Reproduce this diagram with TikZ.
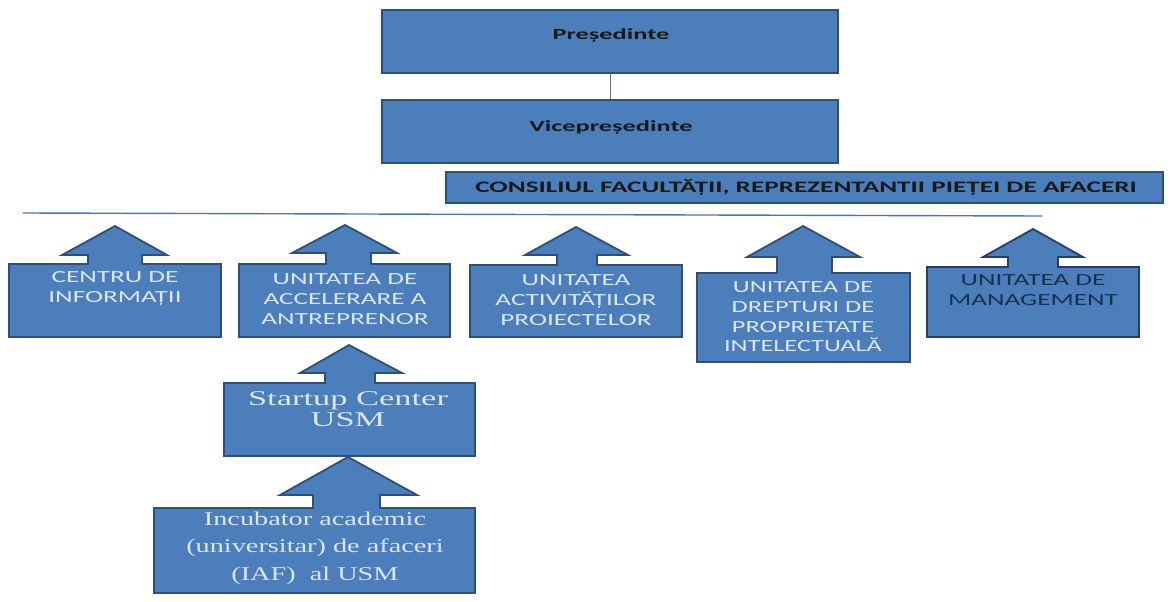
\documentclass[tikz,border=0pt]{standalone}
\usepackage{fontspec}
\setmainfont{Carlito}
\newfontfamily\calS[FakeStretch=1.6]{Carlito}
\newfontfamily\calF[FakeStretch=1.55]{Carlito}
\newfontfamily\calH[FakeStretch=1.7]{Carlito}
\newfontfamily\tnrA[FakeStretch=1.64]{Liberation Serif}
\newfontfamily\tnrB[FakeStretch=1.45]{Liberation Serif}
\definecolor{boxblue}{HTML}{4C7EBB}
\definecolor{boxedge}{HTML}{2F4F78}
\definecolor{lighttext}{HTML}{DCE6F2}
\definecolor{darktext}{HTML}{17324F}
\definecolor{linecol}{HTML}{4A76A8}
\begin{document}
\begin{tikzpicture}[x=1pt,y=-1pt,
  blk/.style={fill=boxblue,draw=boxedge,line width=1.8pt,line join=miter},
  hbox/.style={blk,inner sep=0pt},
  hdrtxt/.style={inner sep=0pt,text=black!90,font=\calH\bfseries\fontsize{15.5}{18}\selectfont},
  lbl/.style={inner sep=0pt,align=center,text=lighttext,font=\calS\fontsize{17}{20}\selectfont},
  flbl/.style={lbl,font=\calF\fontsize{17}{19.7}\selectfont},
  dlbl/.style={lbl,text=darktext},
  serA/.style={inner sep=0pt,align=center,text=lighttext,font=\tnrA\fontsize{21}{21}\selectfont},
  serB/.style={inner sep=0pt,align=center,text=lighttext,font=\tnrB\fontsize{19.5}{27.5}\selectfont},
  conn/.style={draw=linecol!80!gray,line width=0.9pt},
  hline/.style={draw=linecol,line width=1.4pt}]
\useasboundingbox (0,0) rectangle (1170,602);

% header boxes
\node[hbox,minimum width=456pt,minimum height=63pt] (pres) at (610,41.5) {};
\node[hdrtxt] (presT) at (611,35) {Președinte};
\node[hbox,minimum width=456pt,minimum height=63pt] (vice) at (610,131.5) {};
\node[hdrtxt] (viceT) at (611,127) {Vicepreședinte};
\draw[conn] (pres.south) -- (vice.north);
\node[hbox,minimum width=717pt,minimum height=31pt] (cons) at (804.5,187.5) {};
\node[hdrtxt,font=\calH\bfseries\fontsize{16}{18}\selectfont] (consT) at (806,187) {CONSILIUL FACULTĂȚII, REPREZENTANTII PIEȚEI DE AFACERI};

% horizontal line
\coordinate (hl) at (23,213);
\coordinate (hr) at (1042,216);
\draw[hline] (hl) -- (hr);

% arrow boxes
\draw[blk] (9,337) -- (9,264) -- (88,264) -- (88,255) -- (62,255) -- (115,226) -- (167,255) -- (142,255) -- (142,264) -- (221,264) -- (221,337) -- cycle;
\node[lbl] (b1) at (115,289) {CENTRU DE\\INFORMAȚII};

\draw[blk] (239,337) -- (239,264) -- (326,264) -- (326,253) -- (292,253) -- (345,225) -- (397,253) -- (371,253) -- (371,264) -- (450,264) -- (450,337) -- cycle;
\node[lbl] (b2) at (345,299) {UNITATEA DE\\ACCELERARE A\\ANTREPRENOR};

\draw[blk] (470,337) -- (470,265) -- (557,265) -- (557,255) -- (525,255) -- (576,227) -- (628,255) -- (597,255) -- (597,265) -- (682,265) -- (682,337) -- cycle;
\node[lbl] (b3) at (576,300) {UNITATEA\\ACTIVITĂȚILOR\\PROIECTELOR};

\draw[blk] (697,362) -- (697,273) -- (777,273) -- (777,257) -- (747,257) -- (803,226) -- (860,257) -- (832,257) -- (832,273) -- (910,273) -- (910,362) -- cycle;
\node[flbl] (b4) at (803,317) {UNITATEA DE\\DREPTURI DE\\PROPRIETATE\\INTELECTUALĂ};

\draw[blk,draw=boxedge!80!black] (927,337) -- (927,267) -- (1008,267) -- (1008,257) -- (983,257) -- (1033,229) -- (1083,257) -- (1058,257) -- (1058,267) -- (1139,267) -- (1139,337) -- cycle;
\node[dlbl] (b5) at (1033,290) {UNITATEA DE\\MANAGEMENT};

\draw[blk] (224,456) -- (224,383) -- (325,383) -- (325,373) -- (300,373) -- (349,345) -- (402,373) -- (375,373) -- (375,383) -- (475,383) -- (475,456) -- cycle;
\node[serA] (su) at (348,409) {Startup Center\\USM};

\draw[blk] (154,593) -- (154,508) -- (313,508) -- (313,495) -- (280,495) -- (348,457) -- (417,495) -- (380,495) -- (380,508) -- (475,508) -- (475,593) -- cycle;
\node[serB] (inc) at (315,548) {Incubator academic\\(universitar) de afaceri\\(IAF)\ \ al USM};
\end{tikzpicture}
\end{document}
